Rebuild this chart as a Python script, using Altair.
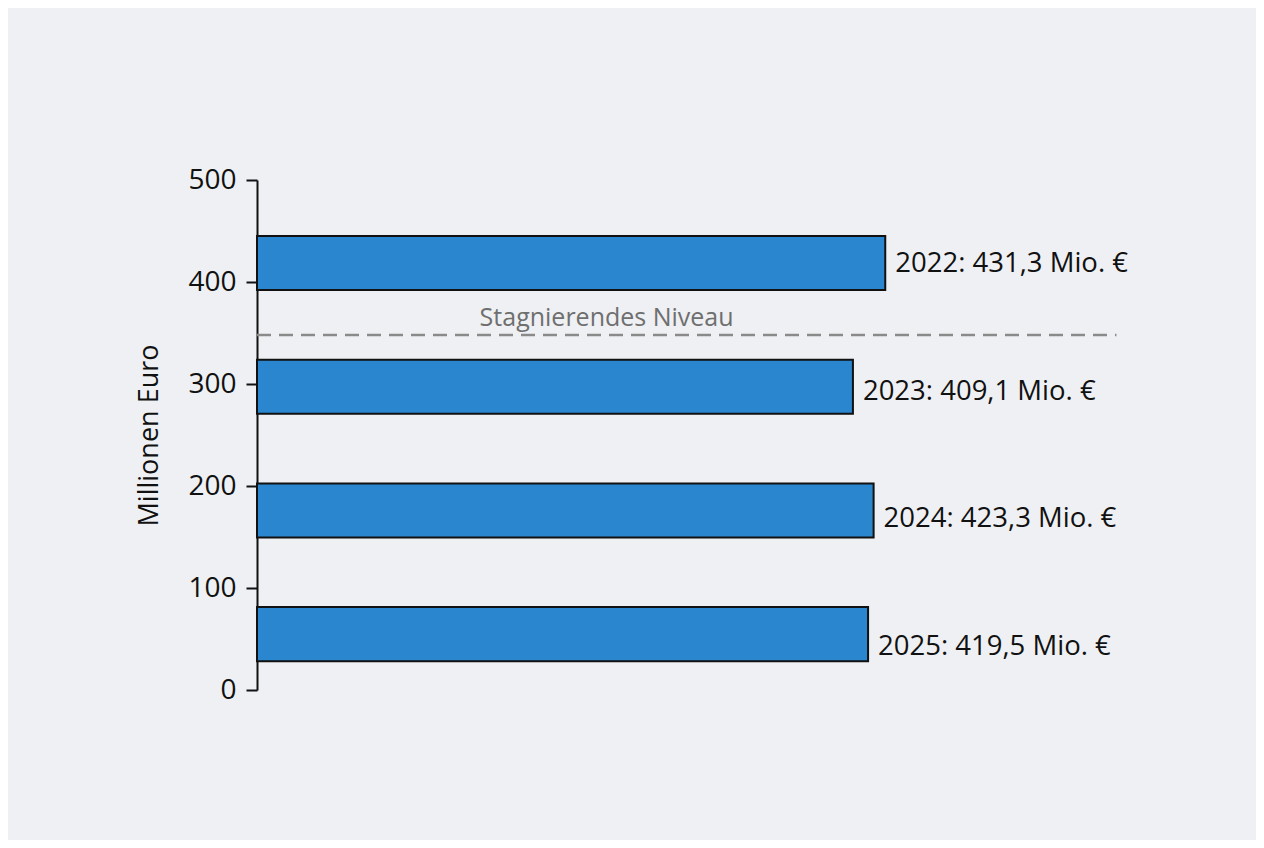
import altair as alt
import pandas as pd

years = ["2022", "2023", "2024", "2025"]
values = [431.3, 409.1, 423.3, 419.5]
labels = ["2022: 431,3 Mio. €", "2023: 409,1 Mio. €", "2024: 423,3 Mio. €", "2025: 419,5 Mio. €"]
y_ticks = [0, 100, 200, 300, 400, 500]
ref_level = [348]
ref_end = [590]
ref_text = ["Stagnierendes Niveau"]
ref_text_x = [240]

df = pd.DataFrame({"Jahr": years, "Wert": values, "Label": labels})
ref = pd.DataFrame({"level": ref_level, "start": [0], "end": ref_end,
                    "text": ref_text, "tx": ref_text_x})

FONT = "Open Sans"
xscale = alt.Scale(domain=[0, 600], nice=False, zero=True)
yq = alt.Scale(domain=[0, 500], nice=False)
yband = alt.Scale(domain=years, paddingInner=0.563, paddingOuter=0.343, align=0.66)

rule = alt.Chart(ref).mark_rule(color="#8a8a8a", strokeWidth=2.5, strokeDash=[14, 8]).encode(
    x=alt.X("start:Q", scale=xscale, axis=None),
    x2="end:Q",
    y=alt.Y("level:Q", scale=yq,
            axis=alt.Axis(values=y_ticks, title="Millionen Euro", grid=False,
                          domainColor="#111", domainWidth=2, tickColor="#111",
                          tickWidth=2, tickSize=11, labelFontSize=28,
                          labelColor="#111", labelFont=FONT, labelPadding=10,
                          titleFont=FONT, titleFontSize=27, titleFontWeight="normal",
                          titleColor="#111", titlePadding=24)),
)

reftext = alt.Chart(ref).mark_text(color="#6f6f6f", fontSize=25, dy=-17, font=FONT,
                                   baseline="middle").encode(
    x=alt.X("tx:Q", scale=xscale, axis=None),
    y=alt.Y("level:Q", scale=yq, axis=None),
    text="text:N",
)

bars = alt.Chart(df).mark_bar(color="#2a86cf", stroke="#111", strokeWidth=2).encode(
    x=alt.X("Wert:Q", scale=xscale, axis=None),
    y=alt.Y("Jahr:O", scale=yband, axis=None, sort=years),
)

bar_text = alt.Chart(df).mark_text(align="left", baseline="middle", dx=10,
                                   fontSize=27.5, font=FONT, color="#111").encode(
    x=alt.X("Wert:Q", scale=xscale, axis=None),
    y=alt.Y("Jahr:O", scale=yband, axis=None, sort=years),
    text="Label:N",
)

chart = alt.layer(rule, reftext, bars, bar_text).resolve_scale(y="independent").properties(
    width=874, height=510,
    autosize=alt.AutoSizeParams(type="none"),
    padding={"left": 249, "top": 172, "right": 125, "bottom": 150},
    background="#eef0f3",
).configure_view(stroke=None)

chart.save("out.html", embed_options={"renderer": "svg", "actions": False})
